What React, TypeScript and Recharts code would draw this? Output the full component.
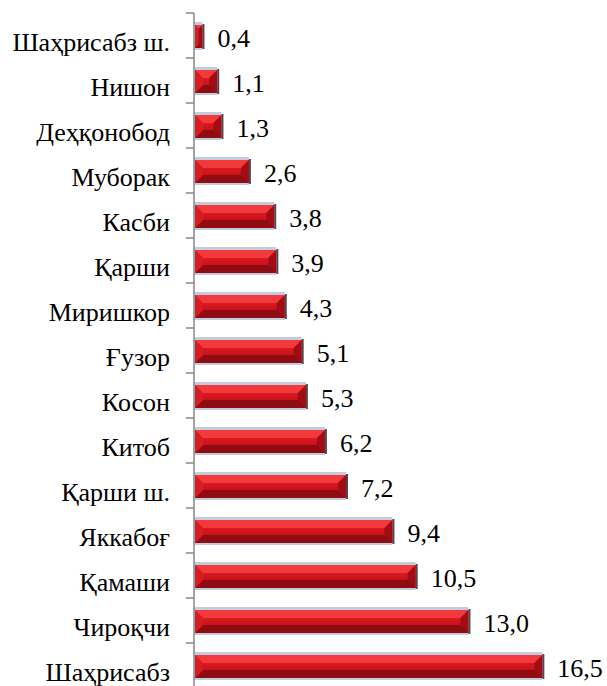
import React from "react";
import { BarChart, Bar, XAxis, YAxis, LabelList } from "recharts";

const categories = [
  "Шаҳрисабз ш.",
  "Нишон",
  "Деҳқонобод",
  "Муборак",
  "Касби",
  "Қарши",
  "Миришкор",
  "Ғузор",
  "Косон",
  "Китоб",
  "Қарши ш.",
  "Яккабоғ",
  "Қамаши",
  "Чироқчи",
  "Шаҳрисабз",
];
const values = [0.4, 1.1, 1.3, 2.6, 3.8, 3.9, 4.3, 5.1, 5.3, 6.2, 7.2, 9.4, 10.5, 13.0, 16.5];

const data = categories.map((name, i) => ({ name, value: values[i] }));

const W = 607;
const H = 688;
const MARGIN = { top: 13, right: 33, bottom: 0, left: 0 };
const AXIS_X = 194;
const BAND = (H - MARGIN.top - MARGIN.bottom) / categories.length;
const FONT = "'Liberation Serif'";

const css = `
#root div.chart-box .recharts-wrapper svg text.serif-lbl,
#root div.chart-box svg g text.serif-lbl,
text.serif-lbl {
  font-family: 'Liberation Serif' !important;
  font-size: 26px !important;
  font-weight: normal !important;
}
`;

const CategoryTick = (props: any) => {
  const { x, y, payload, index } = props;
  return (
    <g>
      <line x1={AXIS_X - 8} x2={AXIS_X} y1={y - BAND / 2} y2={y - BAND / 2} stroke="#888" strokeWidth={1.5} />
      {index === categories.length - 1 && (
        <line x1={AXIS_X - 8} x2={AXIS_X} y1={y + BAND / 2} y2={y + BAND / 2} stroke="#888" strokeWidth={1.5} />
      )}
      <text className="serif-lbl" x={x} y={y + 15} textAnchor="end" style={{ fontFamily: FONT, fontSize: 26 }}>
        {payload.value}
      </text>
    </g>
  );
};

const BevelBar = (props: any) => {
  const { x, y, width, height } = props;
  if (!width || width <= 0) return null;
  const x0 = x + 1;
  const w = width - 1;
  const y1 = y + 3;
  const h = height - 5;
  const b = Math.min(8, w / 2, h / 2);
  const x2 = x0 + w;
  const y2 = y1 + h;
  return (
    <g>
      <rect x={x0 - 1} y={y} width={w + 1} height={height} fill="#c3cbde" />
      <rect x={x0} y={y1} width={w} height={h} fill="url(#barFace)" />
      <polygon points={`${x0},${y1} ${x2},${y1} ${x2 - b},${y1 + b} ${x0 + b},${y1 + b}`} fill="#f23a3c" />
      <polygon points={`${x0},${y2} ${x2},${y2} ${x2 - b},${y2 - b} ${x0 + b},${y2 - b}`} fill="#8e0c12" />
      <polygon points={`${x0},${y1} ${x0 + b},${y1 + b} ${x0 + b},${y2 - b} ${x0},${y2}`} fill="#d81c22" />
      <polygon points={`${x2},${y1} ${x2 - b},${y1 + b} ${x2 - b},${y2 - b} ${x2},${y2}`} fill="#a10d14" />
      <rect x={x2} y={y1 - 1} width={2} height={h + 2} fill="#4a4a52" />
    </g>
  );
};

const ValueLabel = (props: any) => {
  const { x, y, width, height, value } = props;
  return (
    <text className="serif-lbl" x={x + width + 15} y={y + height / 2 + 11} style={{ fontFamily: FONT, fontSize: 26 }}>
      {Number(value).toFixed(1).replace(".", ",")}
    </text>
  );
};

export default function App() {
  return (
    <div className="chart-box" style={{ position: "absolute", left: 0, top: 0, width: W, height: 686, overflow: "hidden", background: "#fff" }}>
      <style>{css}</style>
      <BarChart width={W} height={H} data={data} layout="vertical" margin={MARGIN}>
        <defs>
          <linearGradient id="barFace" x1="0" y1="0" x2="0" y2="1">
            <stop offset="0%" stopColor="#e6262b" />
            <stop offset="55%" stopColor="#d0141b" />
            <stop offset="100%" stopColor="#a50c13" />
          </linearGradient>
        </defs>
        <XAxis type="number" domain={[0, 18]} hide />
        <YAxis
          type="category"
          dataKey="name"
          width={AXIS_X - MARGIN.left}
          axisLine={{ stroke: "#888", strokeWidth: 1.5 }}
          tickLine={false}
          tickSize={8}
          tickMargin={16}
          interval={0}
          tick={<CategoryTick />}
        />
        <Bar dataKey="value" barSize={28} shape={<BevelBar />} isAnimationActive={false}>
          <LabelList dataKey="value" content={<ValueLabel />} />
        </Bar>
      </BarChart>
    </div>
  );
}
